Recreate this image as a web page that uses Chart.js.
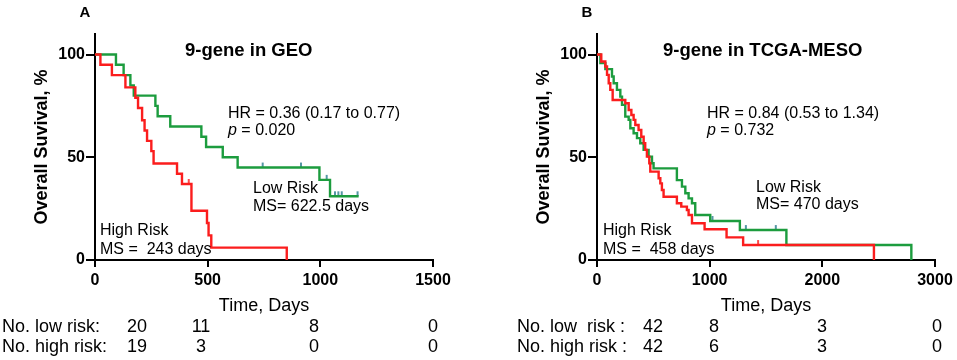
<!DOCTYPE html>
<html>
<head>
<meta charset="utf-8">
<script src="https://cdn.jsdelivr.net/npm/chart.js@4.4.1/dist/chart.umd.min.js"></script>
<style>
  html, body { margin: 0; padding: 0; background: #fff; }
  #wrap { position: relative; width: 957px; height: 360px; }
  .panel { position: absolute; top: 0; height: 360px; }
  #panelA { left: 0; width: 480px; }
  #panelB { left: 480px; width: 477px; }
</style>
</head>
<body>
<div id="wrap">
  <div class="panel" id="panelA"><canvas id="chartA"></canvas></div>
  <div class="panel" id="panelB"><canvas id="chartB"></canvas></div>
</div>
<script>
// ---- Panel A: 9-gene in GEO (days, survival %) ----
const geoLowDays  = [0, 93, 127, 157, 172, 268, 278, 334, 472, 493, 567, 633, 996, 1043, 1170];
const geoLowSurv  = [100, 95, 90, 85, 80, 75, 70, 65, 60, 55, 50, 45, 39, 31, 31];
const geoHighDays = [0, 24, 75, 135, 179, 191, 209, 220, 231, 250, 260, 364, 386, 428, 497, 504, 516, 851];
const geoHighSurv = [100, 95, 90, 84, 79, 74, 68, 63, 58, 53, 47, 42, 37, 24, 18, 12, 6, 0];
const geoLowCensorDays  = [744, 914, 1028, 1065, 1080, 1095, 1165];
const geoLowCensorSurv  = [45, 45, 39, 31, 31, 31, 31];
const geoHighCensorDays = [416];
const geoHighCensorSurv = [37];
const geoXTicks = [0, 500, 1000, 1500];
const geoRiskLow  = ['20', '11', '8', '0'];
const geoRiskHigh = ['19', '3', '0', '0'];

// ---- Panel B: 9-gene in TCGA-MESO ----
const tcgaLowDays  = [0, 30, 74, 133, 148, 177, 207, 222, 251, 281, 296, 325, 355, 384, 414, 458, 488, 502,
                      709, 754, 784, 813, 843, 872, 1005, 1268, 1681, 2790];
const tcgaLowSurv  = [100, 95.8, 92.9, 89.3, 86.0, 82.8, 79.5, 75.5, 69.8, 68.2, 64.1, 61.7, 59.3, 56.8, 53.6, 50.3, 47.1, 44.6,
                      38.9, 35.7, 32.5, 30.0, 27.6, 21.9, 19.0, 14.6, 7.3, 0];
const tcgaHighDays = [0, 38, 74, 89, 104, 118, 139, 251, 281, 305, 325, 340, 369, 393, 414, 428, 443, 464, 473,
                      547, 562, 576, 591, 709, 748, 798, 813, 843, 955, 1150, 1297, 2458];
const tcgaHighSurv = [100, 96.6, 94.2, 90.1, 86.0, 82.8, 77.9, 76.3, 73.0, 70.6, 68.2, 65.7, 63.3, 60.0, 56.8, 53.6, 50.3, 47.1, 43.0,
                      39.8, 37.3, 34.1, 30.8, 27.6, 26.0, 24.3, 21.9, 17.9, 15.0, 11.0, 7.3, 0];
const tcgaLowCensorDays  = [1025, 1321, 1587];
const tcgaLowCensorSurv  = [19.0, 14.6, 14.6];
const tcgaHighCensorDays = [1430];
const tcgaHighCensorSurv = [7.3];
const tcgaXTicks = [0, 1000, 2000, 3000];
const tcgaRiskLow  = ['42', '8', '3', '0'];
const tcgaRiskHigh = ['42', '6', '3', '0'];

const yTicks = [0, 50, 100];

const FONT = "'Liberation Sans', Arial, sans-serif";
const GREEN = '#1c9c3e';
const RED = '#fb1d1d';
const TEAL = '#2a7b8e';

function toPoints(xs, ys) {
    return xs.map((x, i) => ({ x: x, y: ys[i] }));
}

// small upward tick used as censor mark (point sits at the bottom of it)
function censorMark(color) {
    const c = document.createElement('canvas');
    c.width = 4;
    c.height = 12;
    const g = c.getContext('2d');
    g.strokeStyle = color;
    g.lineWidth = 1.6;
    g.beginPath();
    g.moveTo(2, 1);
    g.lineTo(2, 6);
    g.stroke();
    return c;
}

// draws titles, annotations and the number-at-risk table
const panelTextPlugin = {
    id: 'panelText',
    afterDraw(chart, args, opts) {
        const ctx = chart.ctx;
        ctx.save();
        ctx.fillStyle = '#000';
        ctx.textBaseline = 'middle';
        opts.items.forEach(item => {
            ctx.textAlign = item.align || 'left';
            let x = item.x;
            item.parts.forEach(part => {
                ctx.font = (part.italic ? 'italic ' : '') + (item.bold ? 'bold ' : '') + item.size + 'px ' + FONT;
                ctx.fillText(part.t, x, item.y);
                x += ctx.measureText(part.t).width;
            });
        });
        // risk table
        const t = opts.table;
        ctx.font = t.size + 'px ' + FONT;
        [t.low, t.high].forEach((row, r) => {
            const y = t.rowY[r];
            ctx.textAlign = 'left';
            ctx.fillText(t.labels[r], t.labelX, y);
            ctx.textAlign = 'center';
            row.forEach((v, i) => ctx.fillText(v, t.colX[i], y));
        });
        ctx.restore();
    }
};

function txt(text, x, y, size, bold, align) {
    return { parts: [{ t: text }], x: x, y: y, size: size, bold: bold, align: align };
}

function makeChart(id, cfg) {
    const ctx = document.getElementById(id).getContext('2d');
    return new Chart(ctx, {
        type: 'line',
        data: {
            datasets: [
                {
                    label: 'High Risk',
                    data: toPoints(cfg.highDays, cfg.highSurv),
                    borderColor: RED,
                    borderWidth: 2.4,
                    stepped: 'before',
                    pointRadius: 0,
                    fill: false
                },
                {
                    label: 'Low Risk',
                    data: toPoints(cfg.lowDays, cfg.lowSurv),
                    borderColor: GREEN,
                    borderWidth: 2.4,
                    stepped: 'before',
                    pointRadius: 0,
                    fill: false
                },
                {
                    label: 'Low censored',
                    data: toPoints(cfg.lowCensorDays, cfg.lowCensorSurv),
                    showLine: false,
                    pointStyle: censorMark(TEAL),
                    pointRadius: 4
                },
                {
                    label: 'High censored',
                    data: toPoints(cfg.highCensorDays, cfg.highCensorSurv),
                    showLine: false,
                    pointStyle: censorMark(RED),
                    pointRadius: 4
                }
            ]
        },
        options: {
            responsive: true,
            maintainAspectRatio: false,
            animation: false,
            layout: {
                padding: { left: cfg.padLeft, right: cfg.padRight, top: 34, bottom: 0 }
            },
            plugins: {
                legend: { display: false },
                tooltip: { enabled: false },
                panelText: { items: cfg.items, table: cfg.table }
            },
            scales: {
                x: {
                    type: 'linear',
                    min: 0,
                    max: cfg.xTicks[cfg.xTicks.length - 1],
                    afterBuildTicks: s => { s.ticks = cfg.xTicks.map(v => ({ value: v })); },
                    afterFit: s => { s.height = 100; },
                    border: { color: '#000', width: 2 },
                    grid: { drawOnChartArea: false, color: '#000', lineWidth: 2, tickLength: 7 },
                    ticks: {
                        color: '#000',
                        padding: 4,
                        font: { family: FONT, size: 16, weight: 'bold' },
                        callback: v => String(v)
                    },
                    title: {
                        display: true,
                        text: 'Time, Days',
                        color: '#000',
                        font: { family: FONT, size: 18 },
                        padding: { top: 0, bottom: 43 }
                    }
                },
                y: {
                    min: 0,
                    max: 110,
                    afterBuildTicks: s => { s.ticks = yTicks.map(v => ({ value: v })); },
                    afterFit: s => { s.width = 95; },
                    border: { color: '#000', width: 2 },
                    grid: { drawOnChartArea: false, color: '#000', lineWidth: 2, tickLength: 9 },
                    ticks: {
                        color: '#000',
                        padding: 1,
                        font: { family: FONT, size: 16, weight: 'bold' },
                        callback: v => String(v)
                    },
                    title: {
                        display: true,
                        text: 'Overall Suvival, %',
                        color: '#000',
                        font: { family: FONT, size: 18, weight: 'bold' },
                        padding: { top: 31, bottom: 0 }
                    }
                }
            }
        },
        plugins: [panelTextPlugin]
    });
}

makeChart('chartA', {
    lowDays: geoLowDays, lowSurv: geoLowSurv,
    highDays: geoHighDays, highSurv: geoHighSurv,
    lowCensorDays: geoLowCensorDays, lowCensorSurv: geoLowCensorSurv,
    highCensorDays: geoHighCensorDays, highCensorSurv: geoHighCensorSurv,
    xTicks: geoXTicks,
    padLeft: 0, padRight: 47,
    items: [
        txt('A', 85, 13, 15, true, 'center'),
        txt('9-gene in GEO', 185, 51, 18.5, true),
        txt('HR = 0.36 (0.17 to 0.77)', 228, 114, 16),
        { parts: [{ t: 'p', italic: true }, { t: ' = 0.020' }], x: 228, y: 131, size: 16 },
        txt('Low Risk', 253, 189, 16),
        txt('MS= 622.5 days', 253, 207, 16),
        txt('High Risk', 100, 231, 16),
        txt('MS =  243 days', 100, 249.5, 16)
    ],
    table: {
        size: 18, labelX: 2, rowY: [327, 347],
        labels: ['No. low risk:', 'No. high risk:'],
        colX: [137, 201, 314, 433],
        low: geoRiskLow, high: geoRiskHigh
    }
});

makeChart('chartB', {
    lowDays: tcgaLowDays, lowSurv: tcgaLowSurv,
    highDays: tcgaHighDays, highSurv: tcgaHighSurv,
    lowCensorDays: tcgaLowCensorDays, lowCensorSurv: tcgaLowCensorSurv,
    highCensorDays: tcgaHighCensorDays, highCensorSurv: tcgaHighCensorSurv,
    xTicks: tcgaXTicks,
    padLeft: 22, padRight: 22,
    items: [
        txt('B', 107, 13, 15, true, 'center'),
        txt('9-gene in TCGA-MESO', 183, 51, 18.5, true),
        txt('HR = 0.84 (0.53 to 1.34)', 227, 114, 16),
        { parts: [{ t: 'p', italic: true }, { t: ' = 0.732' }], x: 227, y: 131, size: 16 },
        txt('Low Risk', 276, 187.5, 16),
        txt('MS= 470 days', 276, 205, 16),
        txt('High Risk', 123, 231, 16),
        txt('MS =  458 days', 123, 249.5, 16)
    ],
    table: {
        size: 18, labelX: 37, rowY: [327, 347],
        labels: ['No. low  risk :', 'No. high risk :'],
        colX: [173, 234, 342, 457],
        low: tcgaRiskLow, high: tcgaRiskHigh
    }
});
</script>
</body>
</html>
